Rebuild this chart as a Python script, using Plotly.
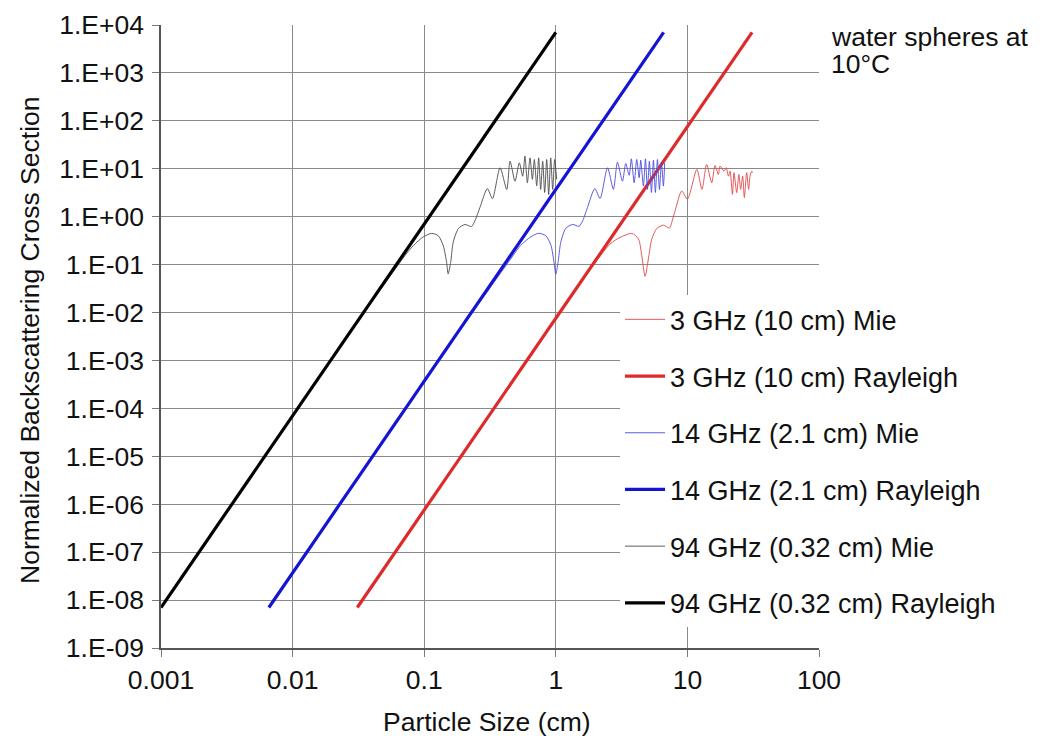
import plotly.graph_objects as go

# ---------------- data ----------------
ray94_x = [0.001, 1.0]
ray94_y = [7e-9, 7e3]
ray14_x = [0.0066, 6.6]
ray14_y = [7e-9, 7e3]
ray3_x = [0.031, 31.0]
ray3_y = [7e-9, 7e3]

mie94_x = [0.02, 0.0714, 0.0826, 0.0985, 0.114, 0.128, 0.1396, 0.148, 0.152, 0.159, 0.166,
           0.182, 0.204, 0.229, 0.243, 0.265, 0.302, 0.330, 0.377, 0.424, 0.449, 0.490,
           0.528, 0.560, 0.583, 0.608, 0.637, 0.664, 0.687, 0.716, 0.741, 0.767, 0.795,
           0.823, 0.853, 0.883, 0.915, 0.947, 0.98, 1.015]
mie94_y = [1.12e-3, 0.154, 0.248, 0.381, 0.448, 0.40, 0.248, 0.112, 0.064, 0.112, 0.291,
           0.567, 0.687, 0.625, 0.82, 1.55, 3.85, 2.38, 10.5, 3.7, 14.4, 5.5,
           13.3, 7.0, 18.3, 5.1, 16.9, 6.0, 15.6, 4.4, 16.9, 3.7, 14.4,
           3.2, 15.6, 2.9, 16.9, 3.7, 15.6, 6.0]

mie14_x = [0.13, 0.47, 0.54, 0.645, 0.74, 0.84, 0.92, 0.97, 1.0, 1.04, 1.09, 1.19, 1.34,
           1.5, 1.6, 1.74, 1.98, 2.17, 2.47, 2.74, 2.94, 3.21, 3.40, 3.61, 3.75, 3.94,
           4.12, 4.30, 4.42, 4.63, 4.80, 4.97, 5.14, 5.33, 5.52, 5.71, 5.92, 6.13, 6.35,
           6.57, 6.72]
mie14_y = [1.05e-3, 0.15, 0.25, 0.38, 0.45, 0.40, 0.25, 0.11, 0.063, 0.11, 0.29, 0.57, 0.69,
           0.63, 0.82, 1.55, 3.85, 2.4, 10.5, 3.72, 13.7, 5.5, 12.9, 7.3, 16.1, 5.1,
           15.6, 6.5, 15.1, 4.36, 16.1, 3.7, 14.4, 3.2, 15.1, 3.2, 15.6, 3.7, 13.7,
           4.36, 13.3]

mie3_x = [0.6, 2.58, 3.08, 3.78, 4.25, 4.50, 4.77, 5.05, 5.36, 5.85, 6.58, 7.30, 7.60, 8.06,
          9.06, 10.0, 11.8, 12.9, 14.0, 15.3, 16.2, 17.2, 17.7, 19.0, 19.7, 20.5, 21.1,
          22.0, 22.6, 23.7, 24.6, 25.4, 26.3, 27.1, 28.2, 29.2, 29.9, 30.8, 31.3]
mie3_y = [9.8e-4, 0.268, 0.369, 0.448, 0.341, 0.154, 0.057, 0.131, 0.341, 0.567, 0.667, 0.577,
          0.757, 1.32, 3.44, 2.31, 9.7, 3.72, 12.3, 5.1, 11.7, 7.6, 11.4, 8.9, 10.5, 7.0,
          8.9, 2.93, 8.3, 3.18, 7.6, 3.72, 7.0, 2.5, 8.3, 3.72, 7.0, 8.9, 8.3]

x_tickvals = [0.001, 0.01, 0.1, 1, 10, 100]
x_ticktext = ["0.001", "0.01", "0.1", "1", "10", "100"]
y_exponents = list(range(-9, 5))
y_tickvals = [10.0 ** e for e in y_exponents]
y_ticktext = ["1.E%s%02d" % ("+" if e >= 0 else "-", abs(e)) for e in y_exponents]

names = ["3 GHz (10 cm) Mie", "3 GHz (10 cm) Rayleigh",
         "14 GHz (2.1 cm) Mie", "14 GHz (2.1 cm) Rayleigh",
         "94 GHz (0.32 cm) Mie", "94 GHz (0.32 cm) Rayleigh"]

# ---------------- figure ----------------
FONT = "Liberation Sans, Arial, Helvetica, sans-serif"
TXT = "#111111"
FS = 26.5
fig = go.Figure()

series = [
    (mie3_x, mie3_y, "#e04848", 0.9, True),
    (ray3_x, ray3_y, "#dd2a2a", 3.2, False),
    (mie14_x, mie14_y, "#4a4ae0", 0.9, True),
    (ray14_x, ray14_y, "#1414d2", 3.2, False),
    (mie94_x, mie94_y, "#4a4a4a", 0.9, True),
    (ray94_x, ray94_y, "#000000", 3.2, False),
]
for i, (xs, ys, col, w, smooth) in enumerate(series):
    fig.add_trace(go.Scatter(
        x=xs, y=ys, mode="lines", name=names[i], legendgroup="g%d" % i,
        line=dict(color=col, width=w, shape="spline" if smooth else "linear",
                  smoothing=0.7 if smooth else None),
        hoverinfo="skip",
    ))

L, R, T, B = 161, 1050 - 819, 25, 736 - 648
PW, PH = 1050 - L - R, 736 - T - B


def px(sx):
    return (sx - L) / PW


def py(sy):
    return (736 - B - sy) / PH


axis_common = dict(
    showgrid=True, gridcolor="#8a8a8a", gridwidth=1,
    showline=True, linecolor="#555555", linewidth=1.5,
    ticks="outside", ticklen=7, tickcolor="#7a7a7a", tickwidth=1,
    zeroline=False, mirror=False,
    tickfont=dict(family=FONT, size=FS, color=TXT),
)
fig.update_xaxes(type="log", range=[-3, 2], tickvals=x_tickvals, ticktext=x_ticktext,
                 ticklabelstandoff=0, **axis_common)
fig.update_yaxes(type="log", range=[-9, 4], tickvals=y_tickvals, ticktext=y_ticktext,
                 ticklabelstandoff=3, **axis_common)

fig.update_layout(
    width=1050, height=736,
    margin=dict(l=L, r=R, t=T, b=B, autoexpand=False),
    paper_bgcolor="white", plot_bgcolor="white",
    font=dict(family=FONT, size=FS, color=TXT),
    showlegend=True,
    legend=dict(
        x=px(620), xanchor="left",
        y=py(295.3), yanchor="top",
        bgcolor="white", borderwidth=0,
        font=dict(family=FONT, size=27, color=TXT),
        tracegroupgap=18.6, itemwidth=40,
    ),
    shapes=[
        dict(type="rect", xref="paper", yref="paper", layer="between",
             x0=px(604), x1=1.0, y0=py(636), y1=py(293),
             fillcolor="white", line=dict(width=0)),
    ],
    annotations=[
        dict(text="Particle Size (cm)", xref="paper", yref="paper",
             x=px(487), y=py(722), xanchor="center", yanchor="middle",
             showarrow=False, font=dict(family=FONT, size=FS, color=TXT)),
        dict(text="Normalized Backscattering Cross Section", xref="paper", yref="paper",
             x=px(30), y=py(340), xanchor="center", yanchor="middle",
             textangle=-90, showarrow=False,
             font=dict(family=FONT, size=FS, color=TXT)),
        dict(text="water spheres at", xref="paper", yref="paper",
             x=px(829), y=py(37), xanchor="left", yanchor="middle",
             showarrow=False, font=dict(family=FONT, size=FS, color=TXT)),
        dict(text="10°C", xref="paper", yref="paper",
             x=px(829), y=py(64), xanchor="left", yanchor="middle",
             showarrow=False, font=dict(family=FONT, size=FS, color=TXT)),
    ],
)

fig.write_html("out.html", config={"displayModeBar": False},
               post_script="document.body.style.margin='0';")
